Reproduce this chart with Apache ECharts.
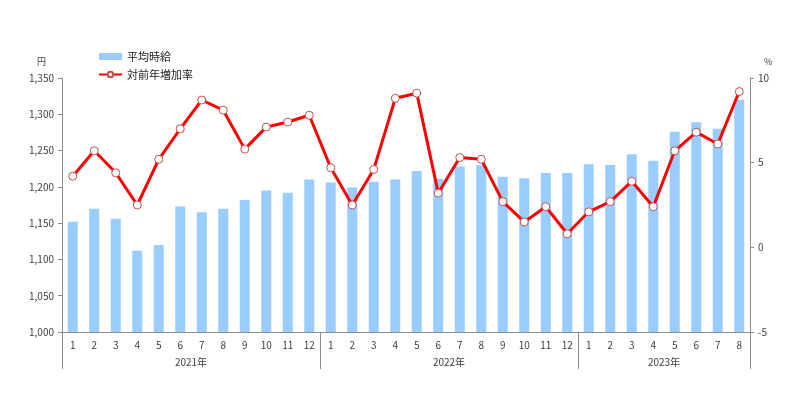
<!DOCTYPE html>
<html>
<head>
<meta charset="utf-8">
<script src="https://cdn.jsdelivr.net/npm/echarts@6/dist/echarts.min.js"></script>
<style>
html,body{margin:0;padding:0;background:#fff;}
#chart{width:800px;height:398px;}
</style>
</head>
<body>
<div id="chart"></div>
<script>
const months = ['1','2','3','4','5','6','7','8','9','10','11','12',
                '1','2','3','4','5','6','7','8','9','10','11','12',
                '1','2','3','4','5','6','7','8'];
const years = ['2021年','2022年','2023年'];
const monthsPerYear = [12, 12, 8];
const wages = [1152,1170,1156,1112,1120,1173,1165,1170,1182,1195,1192,1210,
               1206,1199,1207,1210,1222,1211,1228,1230,1214,1212,1219,1219,
               1231,1230,1245,1236,1276,1289,1280,1320];
const growth = [4.2,5.7,4.4,2.5,5.2,7.0,8.7,8.1,5.8,7.1,7.4,7.8,
                4.7,2.5,4.6,8.8,9.1,3.2,5.3,5.2,2.7,1.5,2.4,0.8,
                2.1,2.7,3.9,2.4,5.7,6.8,6.1,9.2];
const leftTicks = {min:1000, max:1350, interval:50};
const rightTicks = {min:-5, max:10, interval:5};

// year boundaries and centres on the month axis
const bounds = [0]; const centres = [];
monthsPerYear.forEach(n => { const s = bounds[bounds.length-1]; centres.push(s + n/2); bounds.push(s + n); });

const font = '"Noto Sans CJK JP", "Noto Sans", sans-serif';
const txt = '#404040';
const axisCol = '#8c8c8c';

const chart = echarts.init(document.getElementById('chart'));
chart.setOption({
  animation:false,
  textStyle:{fontFamily:font},
  grid:{left:62, right:50, top:78, bottom:66},
  legend:{
    orient:'vertical', left:93, top:46, itemWidth:23, itemHeight:7, itemGap:7,
    textStyle:{fontSize:11, color:'#222', fontFamily:font},
    data:[{name:'平均時給', icon:'rect'}, {name:'対前年増加率'}]
  },
  xAxis:[
    {type:'category', data:months, boundaryGap:true,
     axisLine:{onZero:false, lineStyle:{color:axisCol}}, axisTick:{show:false},
     axisLabel:{color:txt, fontSize:10, margin:8, interval:0}},
    {type:'value', min:0, max:bounds[bounds.length-1], position:'bottom',
     axisLine:{show:false, onZero:false}, splitLine:{show:false},
     axisTick:{show:true, customValues:bounds, length:37, lineStyle:{color:axisCol}},
     axisLabel:{customValues:centres, color:txt, fontSize:10, margin:25,
       formatter:(v)=>{const i=centres.indexOf(v); return i>=0?years[i]:'';}}}
  ],
  yAxis:[
    {type:'value', min:leftTicks.min, max:leftTicks.max, interval:leftTicks.interval,
     name:'円', nameGap:12, nameTextStyle:{color:txt, fontSize:9, align:'right', padding:[0,16,0,0]},
     axisLine:{show:true, lineStyle:{color:axisCol}},
     axisTick:{show:true, length:4, lineStyle:{color:axisCol}},
     splitLine:{show:false},
     axisLabel:{color:txt, fontSize:10, margin:8,
       formatter:(v)=>v.toLocaleString('en-US')}},
    {type:'value', min:rightTicks.min, max:rightTicks.max, interval:rightTicks.interval,
     name:'%', nameGap:12, nameTextStyle:{color:txt, fontSize:9, align:'left', padding:[0,0,0,14]},
     axisLine:{show:true, lineStyle:{color:axisCol}},
     axisTick:{show:true, length:4, lineStyle:{color:axisCol}},
     splitLine:{show:false},
     axisLabel:{color:txt, fontSize:10, margin:8}}
  ],
  series:[
    {name:'平均時給', type:'bar', xAxisIndex:0, yAxisIndex:0, data:wages,
     barWidth:10, itemStyle:{color:'#99CCFF'}},
    {name:'対前年増加率', type:'line', xAxisIndex:0, yAxisIndex:1, data:growth,
     symbol:'circle', symbolSize:8, z:5,
     lineStyle:{color:'#FF0000', width:3},
     itemStyle:{color:'#FFFFFF', borderColor:'#C0504D', borderWidth:1}}
  ]
});
</script>
</body>
</html>
